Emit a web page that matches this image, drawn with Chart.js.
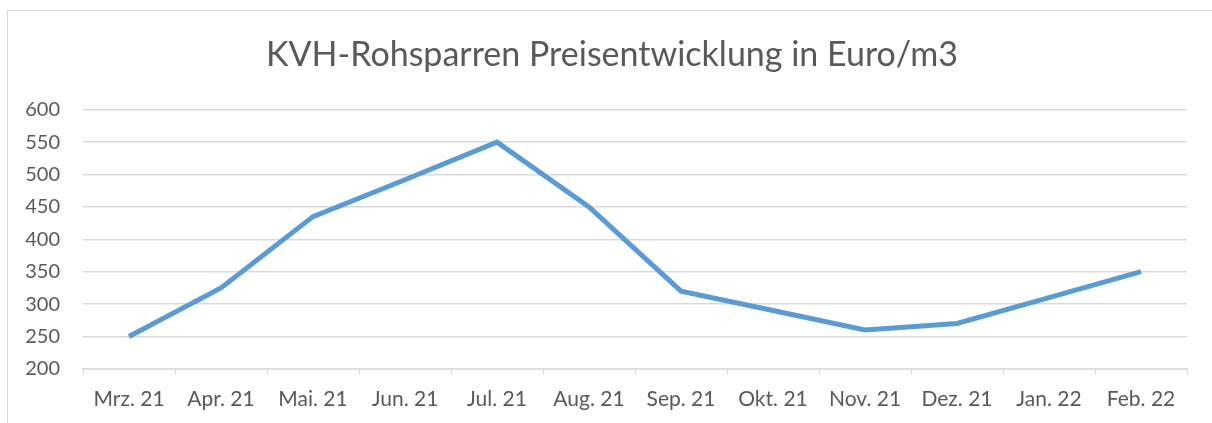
<!DOCTYPE html>
<html>
<head>
<meta charset="utf-8">
<script src="https://cdn.jsdelivr.net/npm/chart.js@4"></script>
<style>
  body { margin: 0; background: #fff; }
  #box {
    position: absolute; left: 7px; top: 10px;
    width: 1210px; height: 430px;
    border: 1px solid #d9d9d9; box-sizing: border-box;
  }
</style>
</head>
<body>
<div id="box"><canvas id="chart"></canvas></div>
<script>
const months = ['Mrz. 21', 'Apr. 21', 'Mai. 21', 'Jun. 21', 'Jul. 21', 'Aug. 21',
                'Sep. 21', 'Okt. 21', 'Nov. 21', 'Dez. 21', 'Jan. 22', 'Feb. 22'];
const prices = [250, 325, 435, 492, 550, 450, 320, 290, 260, 270, 310, 350];
const yTicks = [200, 250, 300, 350, 400, 450, 500, 550, 600];

const grey = '#d9d9d9';
const textColor = '#595959';
const fontFamily = 'Lato, "Open Sans", sans-serif';

new Chart(document.getElementById('chart'), {
    type: 'line',
    data: {
        labels: months,
        datasets: [{
            label: 'Preis',
            data: prices,
            yAxisID: 'y',
            borderColor: '#5b9bd5',
            borderWidth: 5,
            pointRadius: 0,
            tension: 0,
            fill: false
        }]
    },
    options: {
        responsive: true,
        maintainAspectRatio: false,
        animation: false,
        layout: { padding: { left: 16, right: 16, top: 16, bottom: 15 } },
        plugins: {
            legend: { display: false },
            tooltip: { enabled: false },
            title: {
                display: true,
                text: 'KVH-Rohsparren Preisentwicklung in Euro/m3',
                color: textColor,
                font: { family: fontFamily, size: 34, weight: 'normal' },
                padding: { top: 8, bottom: 34 }
            }
        },
        scales: {
            x: {
                offset: true,
                grid: { offset: true, drawOnChartArea: false, color: grey, tickLength: 6 },
                border: { color: grey, width: 1.5 },
                ticks: { color: textColor, font: { family: fontFamily, size: 21 }, padding: 12, maxRotation: 0 }
            },
            y: {
                min: yTicks[0],
                max: yTicks[yTicks.length - 1],
                afterBuildTicks: axis => { axis.ticks = yTicks.map(v => ({ value: v })); },
                afterFit: axis => { axis.width = 59; },
                grid: { color: grey, lineWidth: 1.5, drawTicks: false },
                border: { display: false },
                ticks: { color: textColor, font: { family: fontFamily, size: 20 }, padding: 23 }
            },
            // empty spacer on the right so the plot ends where the reference does
            spacer: {
                type: 'linear',
                position: 'right',
                afterFit: axis => { axis.width = 13; },
                grid: { drawOnChartArea: false, drawTicks: false },
                border: { display: false },
                ticks: { display: false }
            }
        }
    }
});
</script>
</body>
</html>
